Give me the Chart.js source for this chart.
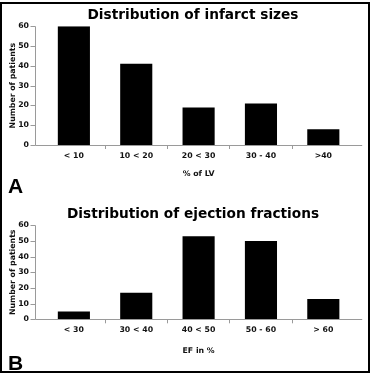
<!DOCTYPE html>
<html><head><meta charset="utf-8">
<script src="https://cdn.jsdelivr.net/npm/chart.js@4/dist/chart.umd.min.js"></script>
<style>
html,body{margin:0;padding:0;background:#fff;width:371px;height:377px;overflow:hidden;position:relative}
canvas{position:absolute;left:0;display:block}
#frame{position:absolute;left:0;top:2px;width:366px;height:367px;border:2px solid #000;pointer-events:none;z-index:5}
.lab{position:absolute;font:bold 21px "Liberation Sans",Arial,sans-serif;color:#000;z-index:6;line-height:1}
</style></head>
<body>
<canvas id="c1" width="386" height="190" style="top:0"></canvas>
<canvas id="c2" width="386" height="187" style="top:190px"></canvas>
<div id="frame"></div>
<div class="lab" style="left:8px;top:175px">A</div>
<div class="lab" style="left:8px;top:352px">B</div>
<script>
// ---- data ----
const infarctCategories = ['< 10', '10 < 20', '20 < 30', '30 - 40', '>40'];
const infarctPatients = [60, 41, 19, 21, 8];
const efCategories = ['< 30', '30 < 40', '40 < 50', '50 - 60', '> 60'];
const efPatients = [5, 17, 53, 50, 13];
const yMax = 60;
const yStep = 10;

// ---- styling ----
const FONT = '"DejaVu Sans", Verdana, sans-serif';
const AXIS = '#9a9a9a';
const TXT = '#111';
const EXT = 7.7;
const SMALL = 7.8;

const axesPlugin = {
  id: 'axesLines',
  afterDraw(chart) {
    const {ctx, chartArea: a, scales: {x, y}} = chart;
    const x0 = Math.round(a.left - EXT) + 0.5;
    const x1 = a.right + EXT;
    const yb = Math.round(a.bottom) + 0.5;
    ctx.save();
    ctx.strokeStyle = AXIS;
    ctx.lineWidth = 1;
    ctx.beginPath();
    ctx.moveTo(x0, Math.round(y.getPixelForValue(y.max)) + 0.5);
    ctx.lineTo(x0, yb);
    ctx.lineTo(x1, yb);
    y.ticks.forEach(t => {
      const py = Math.round(y.getPixelForValue(t.value)) + 0.5;
      ctx.moveTo(x0 - 5, py);
      ctx.lineTo(x0, py);
    });
    ctx.stroke();
    ctx.restore();
  }
};

function makeChart(id, labels, values, title, xTitle, cfg) {
  return new Chart(document.getElementById(id), {
    type: 'bar',
    data: {
      labels: labels,
      datasets: [{
        data: values,
        backgroundColor: '#000',
        borderWidth: 0,
        categoryPercentage: 1,
        barPercentage: 0.515
      }]
    },
    options: {
      responsive: false,
      animation: false,
      devicePixelRatio: 1,
      layout: {padding: {left: 0, right: 0, top: 0, bottom: cfg.padBottom}},
      plugins: {
        legend: {display: false},
        tooltip: {enabled: false},
        title: {
          display: true,
          text: title,
          color: '#000',
          font: {family: FONT, size: 13.7, weight: 'bold', lineHeight: 1.2},
          padding: {top: cfg.titleTop, bottom: 3}
        }
      },
      scales: {
        x: {
          type: 'category',
          offset: true,
          border: {display: false},
          grid: {
            display: true,
            offset: true,
            drawOnChartArea: false,
            drawTicks: true,
            tickLength: 4,
            color: c => (c.type === 'tick' && c.index > 0) ? AXIS : 'rgba(0,0,0,0)'
          },
          ticks: {
            color: TXT,
            font: {family: FONT, size: SMALL, weight: 'bold'},
            padding: 2,
            maxRotation: 0,
            autoSkip: false
          },
          title: {
            display: true,
            text: xTitle,
            color: TXT,
            font: {family: FONT, size: SMALL, weight: 'bold', lineHeight: 1.2},
            padding: {top: 0, bottom: cfg.xTitleBottom}
          },
          afterFit: s => { s.height = 40; }
        },
        y: {
          position: 'left',
          min: 0,
          max: yMax,
          border: {display: false},
          grid: {display: false, drawTicks: false},
          ticks: {
            stepSize: yStep,
            color: TXT,
            font: {family: FONT, size: SMALL, weight: 'bold'},
            padding: 13.7
          },
          title: {
            display: true,
            text: 'Number of patients',
            color: TXT,
            font: {family: FONT, size: SMALL, weight: 'bold', lineHeight: 1.2},
            padding: {top: 8.3, bottom: 0}
          },
          afterFit: s => { s.width = 42.7; }
        },
        yRight: {
          position: 'right',
          display: true,
          min: 0,
          max: yMax,
          border: {display: false},
          grid: {display: false, drawTicks: false},
          ticks: {display: false},
          afterFit: s => { s.width = 31.5; }
        }
      }
    },
    plugins: [axesPlugin]
  });
}

makeChart('c1', infarctCategories, infarctPatients, 'Distribution of infarct sizes', '% of LV',
  {padBottom: 5, titleTop: 6.8, xTitleBottom: 6.3});
makeChart('c2', efCategories, efPatients, 'Distribution of ejection fractions', 'EF in %',
  {padBottom: 17.7, titleTop: 15.8, xTitleBottom: 3.6});
</script>
</body></html>
